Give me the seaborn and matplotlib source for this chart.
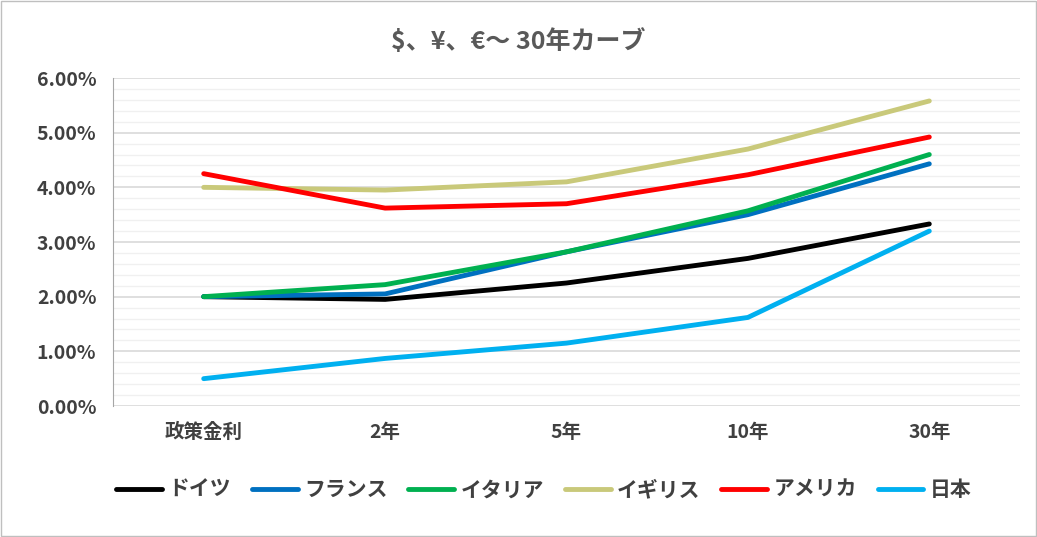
import matplotlib
matplotlib.use("Agg")
import matplotlib.pyplot as plt
import seaborn as sns
import pandas as pd
from matplotlib.ticker import MultipleLocator, FuncFormatter

sns.set_style("white")
plt.rcParams['font.family'] = ['Noto Sans CJK JP', 'DejaVu Sans']

categories = ["政策金利", "2年", "5年", "10年", "30年"]
series_names = ["ドイツ", "フランス", "イタリア", "イギリス", "アメリカ", "日本"]
germany = [2.00, 1.95, 2.25, 2.70, 3.33]
france = [2.00, 2.05, 2.82, 3.50, 4.43]
italy = [2.00, 2.22, 2.82, 3.57, 4.60]
uk = [4.00, 3.95, 4.10, 4.70, 5.58]
usa = [4.25, 3.62, 3.70, 4.23, 4.92]
japan = [0.50, 0.87, 1.15, 1.62, 3.20]
colors = ["#000000", "#0070C0", "#00B050", "#C9C97A", "#FF0000", "#00B0F0"]

values = [germany, france, italy, uk, usa, japan]
df = pd.DataFrame([
    {"x": i, "cat": c, "series": s, "v": v}
    for s, vals in zip(series_names, values)
    for i, (c, v) in enumerate(zip(categories, vals))
])

fig = plt.figure(figsize=(10.37, 5.37), dpi=100)
ax = fig.add_axes([113 / 1037, 1 - 406 / 537, 907 / 1037, 328 / 537])
sns.lineplot(data=df, x="x", y="v", hue="series", hue_order=series_names,
             palette=colors, linewidth=3.5, ax=ax, sort=False)

ax.set_xlim(-0.5, 4.5)
ax.set_ylim(0, 6)
ax.set_xticks(range(len(categories)))
ax.set_xticklabels(categories)
ax.yaxis.set_major_locator(MultipleLocator(1))
ax.yaxis.set_minor_locator(MultipleLocator(0.2))
ax.yaxis.set_major_formatter(FuncFormatter(lambda v, p: f"{v:.2f}%"))
ax.grid(which="major", axis="y", color="#D9D9D9", linewidth=1.2, zorder=0)
ax.grid(which="minor", axis="y", color="#F0F0F0", linewidth=1, zorder=0)
ax.set_axisbelow(True)
for s in ["top", "right", "bottom"]:
    ax.spines[s].set_visible(False)
ax.spines["left"].set_color("#A6A6A6")
ax.tick_params(axis="both", length=0, labelsize=14, labelcolor="#404040", pad=12)
for lab in ax.get_xticklabels() + ax.get_yticklabels():
    lab.set_fontweight("bold")
ax.set_xlabel("")
ax.set_ylabel("")

ax.legend(loc="center", bbox_to_anchor=(0.475, -0.255), ncol=6, frameon=False,
          prop={"size": 15, "weight": "bold"}, handlelength=2.2,
          columnspacing=1.0, handletextpad=0.3, labelcolor="#404040")

fig.text(0.5, 1 - 42 / 537, "$、¥、€～ 30年カーブ", ha="center", va="center",
         fontsize=18, fontweight="bold", color="#595959")
fig.patches.append(plt.Rectangle((0.001, 0.001), 0.998, 0.998, transform=fig.transFigure,
                                 fill=False, edgecolor="#BFBFBF", linewidth=1))

fig.savefig("out.png", dpi=100)
